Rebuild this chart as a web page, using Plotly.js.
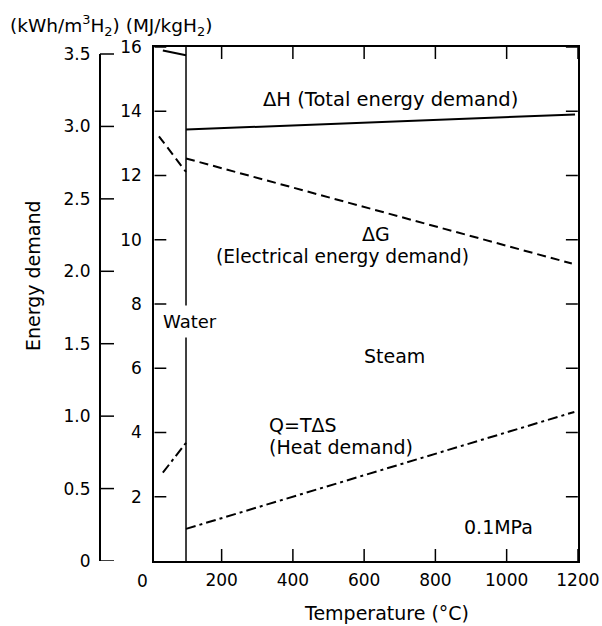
<!DOCTYPE html>
<html>
<head>
<meta charset="utf-8">
<script src="https://cdn.plot.ly/plotly-3.0.1.min.js"></script>
<style>html,body{margin:0;padding:0;background:#fff;}#chart{width:602px;height:626px;}</style>
</head>
<body>
<div id="chart"></div>
<script>
// ---- data ----
const dHWaterT = [35, 100];
const dHWater  = [15.89, 15.74];
const dHSteamT = [100, 1192];
const dHSteam  = [13.43, 13.90];

const dGWaterT = [24, 100];
const dGWater  = [13.22, 12.11];
const dGSteamT = [100, 1183];
const dGSteam  = [12.53, 9.26];

const qWaterT  = [35, 100];
const qWater   = [2.75, 3.68];
const qSteamT  = [100, 1190];
const qSteam   = [1.00, 4.64];

const boilingT = 100;

const xTickVals = [200, 400, 600, 800, 1000, 1200];
const yTickVals = [2, 4, 6, 8, 10, 12, 14, 16];
const y2TickVals = [0, 0.5, 1.0, 1.5, 2.0, 2.5, 3.0, 3.5];
const y2TickText = ['0', '0.5', '1.0', '1.5', '2.0', '2.5', '3.0', '3.5'];

// ---- layout helpers ----
const W = 602, H = 626;
const plotL = 154.3, plotR = 577.9, plotT = 47, plotB = 561;
const FONT = 'DejaVu Sans';
function px(x) { return x / W; }
function py(y) { return (plotB - y) / (plotB - plotT); }

const solid = {color: 'black', width: 2};
const dashed = {color: 'black', width: 2, dash: '9px,5px'};
const dashdot = {color: 'black', width: 2, dash: '10px,4px,3px,4px'};

function seg(x, y, line) {
  return {x: x, y: y, type: 'scatter', mode: 'lines', line: line,
          xaxis: 'x', yaxis: 'y', showlegend: false, hoverinfo: 'skip'};
}

const traces = [
  seg(dHWaterT, dHWater, solid),
  seg(dHSteamT, dHSteam, solid),
  seg(dGWaterT, dGWater, dashed),
  seg(dGSteamT, dGSteam, dashed),
  seg(qWaterT, qWater, dashdot),
  seg(qSteamT, qSteam, dashdot),
  {x: [null], y: [null], type: 'scatter', mode: 'lines', xaxis: 'x', yaxis: 'y2',
   showlegend: false, hoverinfo: 'skip'}
];

function ann(text, x, y, opts) {
  return Object.assign({
    text: text, x: px(x), y: py(y), xref: 'paper', yref: 'paper',
    showarrow: false, xanchor: 'center', yanchor: 'middle',
    font: {family: FONT, size: 19, color: 'black'}
  }, opts || {});
}

const annotations = [
  ann('(kWh/m<sup>3</sup>H<sub>2</sub>) (MJ/kgH<sub>2</sub>)', 8, 26,
      {xanchor: 'left', font: {family: FONT, size: 18.5, color: 'black'}}),
  ann('ΔH (Total energy demand)', 390.8, 99.5, {font: {family: FONT, size: 19.5, color: 'black'}}),
  ann('ΔG', 376, 234),
  ann('(Electrical energy demand)', 342.5, 256, {font: {family: FONT, size: 18.6, color: 'black'}}),
  ann('Water', 189.7, 321, {bgcolor: 'white', borderpad: 5, font: {family: FONT, size: 18, color: 'black'}}),
  ann('Steam', 394.7, 356),
  ann('Q=TΔS', 266.7, 425, {xanchor: 'left'}),
  ann('(Heat demand)', 266.7, 447, {xanchor: 'left'}),
  ann('0.1MPa', 498.8, 526.7),
  ann('0', 142.7, 580.7, {font: {family: FONT, size: 17, color: 'black'}}),
  ann('Energy demand', 33, 276, {textangle: -90}),
  ann('Temperature (°C)', 386.7, 613)
];

// axes: invisible outside ticks only push the labels away from the frame
const labelAxis = {
  showgrid: false, zeroline: false,
  ticks: 'outside', tickcolor: 'rgba(0,0,0,0)', tickwidth: 1,
  tickfont: {family: FONT, size: 17, color: 'black'}
};

const xDomain = [plotL / W, plotR / W];
const xRange = [11, 1200];
const yRange = [0, 16];
// outer kWh axis shares the plot height; 3.5 sits at pixel row 54
const y2Range = [0, 3.5 * (plotB - plotT) / (plotB - 54)];

// visible inward tick marks, positioned through the axes' own scales
const tickLine = {color: 'black', width: 1.5};
const tickShapes = [];
xTickVals.forEach(v => {
  tickShapes.push({type: 'line', xref: 'x', yref: 'y', x0: v, x1: v,
    ysizemode: 'pixel', yanchor: yRange[0], y0: 0, y1: 12, line: tickLine});
  tickShapes.push({type: 'line', xref: 'x', yref: 'y', x0: v, x1: v,
    ysizemode: 'pixel', yanchor: yRange[1], y0: 0, y1: -12, line: tickLine});
});
yTickVals.forEach(v => {
  tickShapes.push({type: 'line', xref: 'x', yref: 'y', y0: v, y1: v,
    xsizemode: 'pixel', xanchor: xRange[0], x0: 0, x1: 12, line: tickLine});
  tickShapes.push({type: 'line', xref: 'x', yref: 'y', y0: v, y1: v,
    xsizemode: 'pixel', xanchor: xRange[1], x0: 0, x1: -12, line: tickLine});
});
y2TickVals.forEach(v => {
  tickShapes.push({type: 'line', xref: 'paper', yref: 'y2', y0: v, y1: v,
    xsizemode: 'pixel', xanchor: px(100), x0: 0, x1: 14, line: tickLine});
});

const layout = {
  width: W, height: H,
  margin: {l: 0, r: 0, t: plotT, b: H - plotB, pad: 0},
  paper_bgcolor: 'white', plot_bgcolor: 'white',
  showlegend: false,
  font: {family: FONT, size: 17, color: 'black'},
  xaxis: Object.assign({}, labelAxis, {
    domain: xDomain, range: xRange, tickvals: xTickVals, ticklen: 3, anchor: 'y',
    showline: true, linecolor: 'black', linewidth: 2, mirror: true
  }),
  yaxis: Object.assign({}, labelAxis, {
    domain: [0, 1], range: yRange, tickvals: yTickVals, ticklen: 7, anchor: 'x',
    showline: true, linecolor: 'black', linewidth: 2, mirror: true
  }),
  yaxis2: Object.assign({}, labelAxis, {
    overlaying: 'y', range: y2Range, tickvals: y2TickVals, ticktext: y2TickText,
    ticklen: 6, anchor: 'free', position: px(100), side: 'left', showline: false
  }),
  shapes: [
    {type: 'line', xref: 'x', yref: 'y', x0: boilingT, x1: boilingT, y0: yRange[0], y1: yRange[1],
     line: {color: 'black', width: 1.5}},
    {type: 'line', xref: 'paper', yref: 'y2', x0: px(100), x1: px(100),
     y0: y2TickVals[0], y1: y2TickVals[y2TickVals.length - 1],
     line: {color: 'black', width: 2}}
  ].concat(tickShapes),
  annotations: annotations
};

Plotly.newPlot('chart', traces, layout, {staticPlot: true, displayModeBar: false});
</script>
</body>
</html>
